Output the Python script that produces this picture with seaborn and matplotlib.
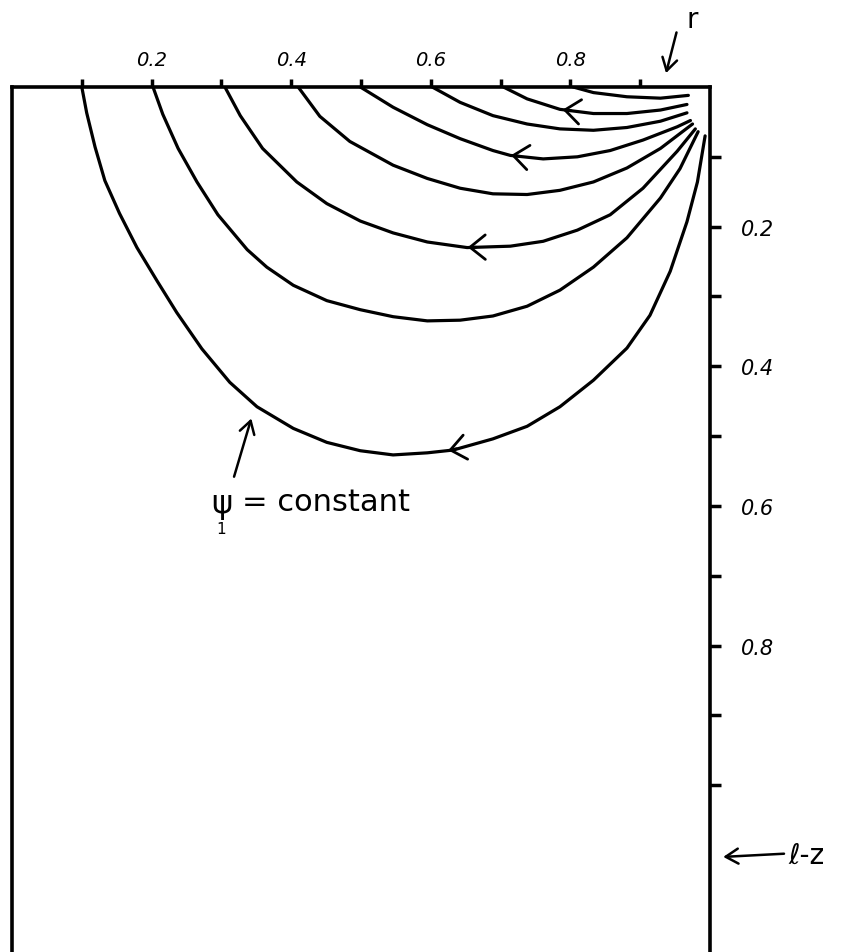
import numpy as np
import pandas as pd
import matplotlib
matplotlib.use("Agg")
import matplotlib.pyplot as plt
import seaborn as sns

# streamlines psi_1 = const (r, depth below surface)
c1_r = [0.100, 0.107, 0.119, 0.133, 0.154, 0.179, 0.208, 0.236, 0.272, 0.312,
        0.351, 0.403, 0.451, 0.499, 0.546, 0.595, 0.632, 0.689, 0.738, 0.785,
        0.833, 0.881, 0.914, 0.943, 0.967, 0.982, 0.993]
c1_z = [0.000, 0.037, 0.086, 0.134, 0.181, 0.230, 0.278, 0.323, 0.375, 0.423,
        0.458, 0.489, 0.509, 0.521, 0.527, 0.524, 0.520, 0.504, 0.486, 0.458,
        0.420, 0.374, 0.327, 0.264, 0.193, 0.136, 0.070]
c2_r = [0.202, 0.216, 0.238, 0.265, 0.295, 0.337, 0.365, 0.403, 0.451, 0.499,
        0.546, 0.595, 0.642, 0.689, 0.738, 0.785, 0.833, 0.881, 0.929, 0.957,
        0.983]
c2_z = [0.000, 0.039, 0.088, 0.136, 0.183, 0.233, 0.258, 0.284, 0.306, 0.319,
        0.329, 0.335, 0.334, 0.328, 0.314, 0.291, 0.258, 0.216, 0.159, 0.117,
        0.064]
c3_r = [0.305, 0.327, 0.359, 0.408, 0.451, 0.499, 0.546, 0.595, 0.652, 0.714,
        0.761, 0.810, 0.857, 0.904, 0.953, 0.979]
c3_z = [0.000, 0.041, 0.088, 0.136, 0.167, 0.192, 0.209, 0.222, 0.230, 0.228,
        0.221, 0.205, 0.183, 0.145, 0.092, 0.060]
c4_r = [0.410, 0.441, 0.484, 0.546, 0.595, 0.642, 0.689, 0.738, 0.785,
        0.833, 0.881, 0.929, 0.975]
c4_z = [0.000, 0.042, 0.078, 0.112, 0.131, 0.145, 0.153, 0.154, 0.148,
        0.136, 0.116, 0.088, 0.053]
c5_r = [0.499, 0.546, 0.595, 0.642, 0.689, 0.714, 0.761, 0.810, 0.857, 0.904,
        0.953, 0.972]
c5_z = [0.000, 0.029, 0.054, 0.074, 0.091, 0.098, 0.103, 0.100, 0.091, 0.076,
        0.057, 0.048]
c6_r = [0.602, 0.642, 0.689, 0.738, 0.785, 0.833, 0.881, 0.929, 0.967]
c6_z = [0.000, 0.022, 0.041, 0.053, 0.060, 0.062, 0.058, 0.049, 0.037]
c7_r = [0.704, 0.738, 0.785, 0.833, 0.881, 0.929, 0.967]
c7_z = [0.000, 0.017, 0.032, 0.038, 0.038, 0.033, 0.025]
c8_r = [0.804, 0.833, 0.881, 0.929, 0.969]
c8_z = [0.000, 0.008, 0.014, 0.016, 0.012]

curves_r = [c1_r, c2_r, c3_r, c4_r, c5_r, c6_r, c7_r, c8_r]
curves_z = [c1_z, c2_z, c3_z, c4_z, c5_z, c6_z, c7_z, c8_z]

# flow arrows: which curve, and r where the arrow tip sits
arrow_curves = [0, 2, 4, 6]
arrow_r = [0.621, 0.649, 0.711, 0.785]

r_ticks = [0.1, 0.2, 0.3, 0.4, 0.5, 0.6, 0.7, 0.8, 0.9]
r_labels = ["", "0.2", "", "0.4", "", "0.6", "", "0.8", ""]
z_ticks = [0.1, 0.2, 0.3, 0.4, 0.5, 0.6, 0.7, 0.8, 0.9, 1.0]
z_labels = ["", "0.2", "", "0.4", "", "0.6", "", "0.8", "", ""]

rows = []
for k, (rr, zz) in enumerate(zip(curves_r, curves_z)):
    for i, (a, b) in enumerate(zip(rr, zz)):
        rows.append({"curve": k, "order": i, "r": a, "z": b})
df = pd.DataFrame(rows)

sns.set_style("white")
plt.rcParams["font.family"] = ["DejaVu Sans"]
plt.rcParams["text.color"] = "black"
plt.rcParams["xtick.color"] = "black"
plt.rcParams["ytick.color"] = "black"

fig = plt.figure(figsize=(8.5, 9.53), dpi=100)
ax = fig.add_axes([12 / 850, 0, 698 / 850, 865 / 953])

sns.lineplot(data=df, x="r", y="z", units="curve", estimator=None, sort=False,
             color="black", linewidth=2.3, ax=ax, legend=False)
for ln in ax.lines:
    ln.set_solid_capstyle("round")
    ln.set_solid_joinstyle("round")

ax.set_xlim(0, 1.0)
ax.set_ylim(1.239, 0)
ax.set_xlabel("")
ax.set_ylabel("")

for side in ["top", "left", "right"]:
    ax.spines[side].set_visible(True)
    ax.spines[side].set_linewidth(2.6)
    ax.spines[side].set_color("black")
ax.spines["bottom"].set_visible(False)

ax.xaxis.tick_top()
ax.set_xticks(r_ticks)
ax.set_xticklabels(r_labels, fontsize=14, style="italic")
ax.tick_params(axis="x", direction="out", length=6, width=2.5, pad=7)
ax.yaxis.tick_right()
ax.set_yticks(z_ticks)
ax.set_yticklabels(z_labels, fontsize=15, style="italic")
ax.tick_params(axis="y", direction="out", length=8, width=2.5, pad=14)

# chevrons along the flow direction
for k, ra in zip(arrow_curves, arrow_r):
    rr = np.array(curves_r[k])
    zz = np.array(curves_z[k])
    za = np.interp(ra, rr, zz)
    zb = np.interp(ra + 0.02, rr, zz)
    ax.annotate("", xy=(ra, za), xytext=(ra + 0.02, zb),
                arrowprops=dict(arrowstyle="->,head_length=0.5,head_width=0.4",
                                color="black", lw=2.0, mutation_scale=22))

# r label with arrow
ax.annotate("", xy=(0.936, -0.016), xytext=(0.953, -0.082),
            arrowprops=dict(arrowstyle="->,head_length=0.5,head_width=0.3",
                            color="black", lw=1.8, mutation_scale=18),
            annotation_clip=False)
ax.text(0.974, -0.098, "r", fontsize=20, ha="center", va="center")

# l - z marker on the right
ax.annotate("", xy=(1.015, 1.103), xytext=(1.11, 1.098),
            arrowprops=dict(arrowstyle="->,head_length=0.5,head_width=0.3",
                            color="black", lw=1.8, mutation_scale=18),
            annotation_clip=False)
ax.text(1.113, 1.100, "ℓ-z", fontsize=20, ha="left", va="center")

# psi_1 = constant label
ax.annotate("", xy=(0.344, 0.471), xytext=(0.317, 0.562),
            arrowprops=dict(arrowstyle="->,head_length=0.5,head_width=0.3",
                            color="black", lw=1.8, mutation_scale=18))
ax.text(0.300, 0.596, "ψ", fontsize=23, ha="center", va="center")
ax.text(0.300, 0.632, "1", fontsize=11, ha="center", va="center")
ax.text(0.330, 0.594, "= constant", fontsize=22, ha="left", va="center")

fig.savefig("out.png", dpi=100)
